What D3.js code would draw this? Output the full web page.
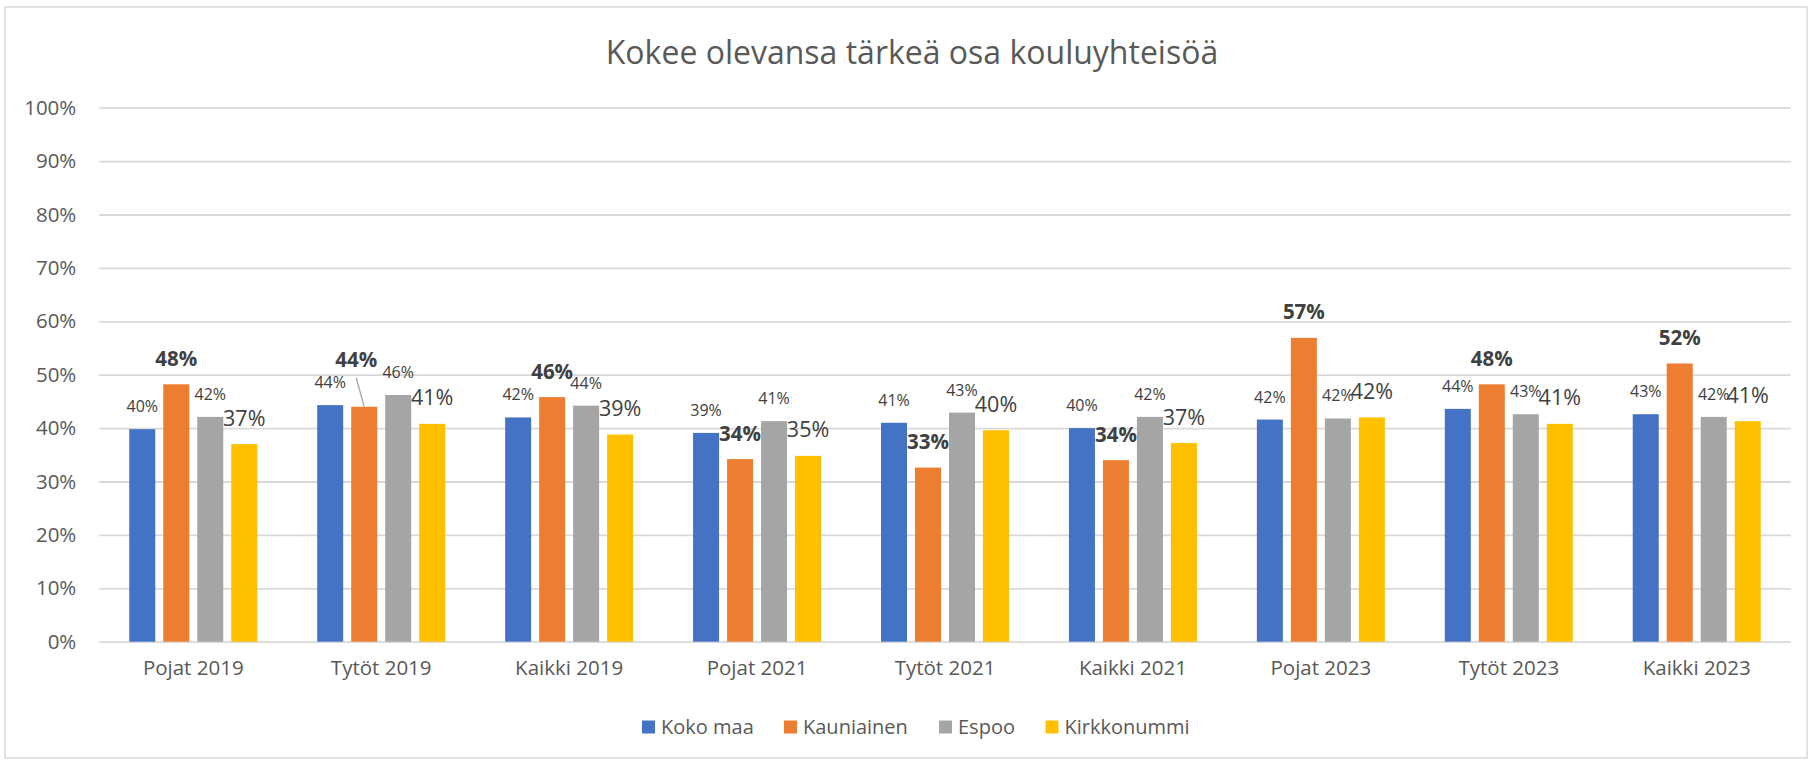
<!DOCTYPE html>
<html>
<head>
<meta charset="utf-8">
<script src="https://cdn.jsdelivr.net/npm/d3@7"></script>
<style>
  body { margin: 0; background: #fff; }
  text { font-family: "Open Sans", sans-serif; }
</style>
</head>
<body>
<svg id="chart" width="1810" height="761"></svg>
<script>
// categories and series (values in percent)
const categories = ["Pojat 2019", "Tytöt 2019", "Kaikki 2019", "Pojat 2021", "Tytöt 2021",
  "Kaikki 2021", "Pojat 2023", "Tytöt 2023", "Kaikki 2023"];
const seriesNames = ["Koko maa", "Kauniainen", "Espoo", "Kirkkonummi"];
const kokoMaa = [39.8, 44.3, 42.0, 39.1, 41.0, 40.0, 41.6, 43.6, 42.6];
const kauniainen = [48.2, 44.0, 45.8, 34.2, 32.6, 34.0, 56.9, 48.2, 52.1];
const espoo = [42.1, 46.2, 44.2, 41.3, 42.9, 42.1, 41.8, 42.6, 42.1];
const kirkkonummi = [37.0, 40.8, 38.8, 34.8, 39.6, 37.2, 42.0, 40.8, 41.3];
const yTicks = [0, 10, 20, 30, 40, 50, 60, 70, 80, 90, 100];

const colors = ["#4472C4", "#ED7D31", "#A5A5A5", "#FFC000"];
// label style per series: font size, weight, gap above bar
const labelStyle = [
  { size: 16, weight: 400, gap: 17 },
  { size: 20.5, weight: 700, gap: 18.5 },
  { size: 16, weight: 400, gap: 17 },
  { size: 21.5, weight: 400, gap: 18.5 },
];

const values = [kokoMaa, kauniainen, espoo, kirkkonummi];
const rows = categories.map((c, i) => ({
  cat: c,
  vals: seriesNames.map((s, j) => ({ series: s, idx: j, cat: c, v: values[j][i] })),
}));

const svg = d3.select("#chart");

// chart border
svg.append("rect")
  .attr("x", 5).attr("y", 7)
  .attr("width", 1802).attr("height", 751)
  .attr("fill", "#fff")
  .attr("stroke", "#D9D9D9")
  .attr("stroke-width", 1.5);

// title
svg.append("text")
  .attr("x", 912).attr("y", 64)
  .attr("text-anchor", "middle")
  .attr("fill", "#595959")
  .style("font-size", "32px")
  .text("Kokee olevansa tärkeä osa kouluyhteisöä");

const plotLeft = 99.3, plotRight = 1790.7, plotTop = 107.7, plotBottom = 641.7;

const x0 = d3.scaleBand().domain(categories).range([plotLeft, plotRight]).padding(0);
const x1 = d3.scaleBand().domain(seriesNames).range([0, 128]).paddingInner(0.235).paddingOuter(0);
const groupOffset = (x0.bandwidth() - 128) / 2;
const y = d3.scaleLinear().domain([0, 100]).range([plotBottom, plotTop]);

// gridlines + y labels
const yAxis = svg.append("g")
  .attr("transform", `translate(${plotLeft},0)`)
  .call(d3.axisLeft(y).tickValues(yTicks).tickSize(-(plotRight - plotLeft)).tickFormat((d) => d + "%").tickPadding(23));
yAxis.select(".domain").remove();
yAxis.selectAll(".tick line").attr("stroke", "#D9D9D9").attr("stroke-width", 1.8);
yAxis.selectAll(".tick text")
  .attr("fill", "#595959")
  .style("font-size", "20.5px")
  .style("font-family", "'Open Sans', sans-serif");

// x labels
const xAxis = svg.append("g")
  .attr("transform", `translate(0,${plotBottom})`)
  .call(d3.axisBottom(x0).tickSize(0).tickPadding(19));
xAxis.select(".domain").remove();
xAxis.selectAll(".tick text")
  .attr("fill", "#595959")
  .style("font-size", "20.5px")
  .style("font-family", "'Open Sans', sans-serif");

// bars
const groups = svg.selectAll(".grp")
  .data(rows)
  .join("g")
  .attr("class", "grp")
  .attr("transform", (d) => `translate(${x0(d.cat) + groupOffset},0)`);

groups.selectAll("rect")
  .data((d) => d.vals)
  .join("rect")
  .attr("x", (d) => x1(d.series))
  .attr("y", (d) => y(d.v))
  .attr("width", x1.bandwidth())
  .attr("height", (d) => plotBottom - y(d.v))
  .attr("fill", (d) => colors[d.idx]);

// data labels (one label was dragged out in the original, with a leader line)
const labelNudge = { "Tytöt 2019|Kauniainen": { dx: -8, dy: -21.5 } };
const fmt = (v) => Math.round(v) + "%";

groups.selectAll("text.lbl")
  .data((d) => d.vals)
  .join("text")
  .attr("class", "lbl")
  .attr("text-anchor", "middle")
  .attr("fill", "#404040")
  .attr("x", (d) => {
    const n = labelNudge[d.cat + "|" + d.series];
    return x1(d.series) + x1.bandwidth() / 2 + (n ? n.dx : 0);
  })
  .attr("y", (d) => {
    const n = labelNudge[d.cat + "|" + d.series];
    return y(d.v) - labelStyle[d.idx].gap + (n ? n.dy : 0);
  })
  .style("font-size", (d) => labelStyle[d.idx].size + "px")
  .style("font-weight", (d) => labelStyle[d.idx].weight)
  .text((d) => fmt(d.v));

// leader lines
groups.each(function (g) {
  g.vals.forEach((d) => {
    const n = labelNudge[d.cat + "|" + d.series];
    if (!n) return;
    const cx = x1(d.series) + x1.bandwidth() / 2;
    d3.select(this).append("line")
      .attr("x1", cx + n.dx).attr("y1", y(d.v) - labelStyle[d.idx].gap + n.dy + 11)
      .attr("x2", cx).attr("y2", y(d.v))
      .attr("stroke", "#A6A6A6")
      .attr("stroke-width", 1.3);
  });
});

// legend
const legendX = [642, 784, 939, 1045.5];
const legend = svg.selectAll(".legend")
  .data(seriesNames)
  .join("g")
  .attr("class", "legend")
  .attr("transform", (d, i) => `translate(${legendX[i]},727)`);

legend.append("rect")
  .attr("x", 0).attr("y", -6.5)
  .attr("width", 13).attr("height", 13)
  .attr("fill", (d, i) => colors[i]);

legend.append("text")
  .attr("x", 19).attr("y", 7)
  .attr("fill", "#595959")
  .style("font-size", "20px")
  .text((d) => d);
</script>
</body>
</html>
